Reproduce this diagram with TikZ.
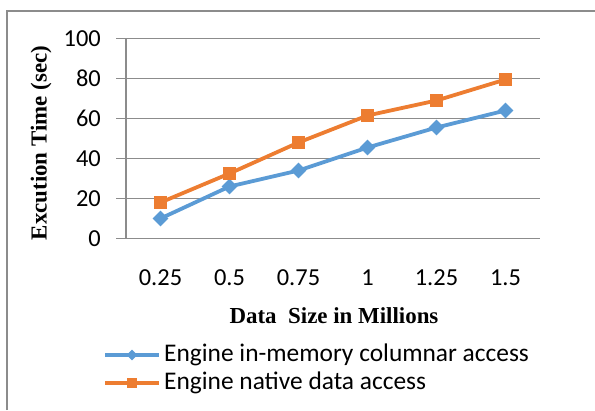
\documentclass[tikz,border=0pt]{standalone}
\usepackage{fontspec}
\setmainfont{Carlito}
\newfontfamily\timesfont{Liberation Serif}
\usetikzlibrary{shapes.geometric}
\definecolor{gridgray}{HTML}{8C8C8C}
\definecolor{serblue}{HTML}{5B9BD5}
\definecolor{serorange}{HTML}{ED7D31}
\tikzset{
  gridline/.style={draw=gridgray, line width=1.5bp},
  framegray/.style={draw=gridgray, line width=1.5bp},
  ticklab/.style={font=\fontsize{24.5}{28}\selectfont, inner sep=0pt},
  axtitle/.style={font=\timesfont\bfseries\fontsize{23}{26}\selectfont, inner sep=0pt},
  blueline/.style={draw=serblue, line width=3.8bp, line join=round},
  orangeline/.style={draw=serorange, line width=3.8bp, line join=round},
  bluemark/.style={diamond, fill=serblue, inner sep=0pt, minimum width=16bp, minimum height=16bp},
  orangemark/.style={rectangle, fill=serorange, inner sep=0pt, minimum size=13.5bp},
  legbluemark/.style={diamond, fill=serblue, inner sep=0pt, minimum width=11bp, minimum height=11bp},
  legorangemark/.style={rectangle, fill=serorange, inner sep=0pt, minimum size=10bp},
  legblue/.style={draw=serblue, line width=3.2bp},
  legorange/.style={draw=serorange, line width=3.2bp},
  legtext/.style={font=\fontsize{25.5}{28}\selectfont, inner sep=0pt, anchor=west},
}
\begin{document}
\begin{tikzpicture}[x=1bp,y=-1bp]
\useasboundingbox (0,0) rectangle (595,410);
% frame
\draw[framegray] (7,410) -- (7,11) -- (595,11);
% gridlines
\foreach \v/\n in {0/g0,20/g20,40/g40,60/g60,80/g80,100/g100}{
  \coordinate (\n l) at (116,{238.5-2*\v});
  \coordinate (\n r) at (540,{238.5-2*\v});
  \draw[gridline] (\n l) -- (\n r);
  \node[ticklab, anchor=east] (\n t) at (101,{238.5-2*\v}) {\v};
}
% y axis
\coordinate (ytop) at (126,38.5);
\coordinate (ybot) at (126,238.5);
\draw[gridline] (ytop) -- (ybot);
% x tick labels
\foreach \i/\l in {1/0.25,2/0.5,3/0.75,4/1,5/1.25,6/1.5}{
  \node[ticklab] (x\i) at ({126+69*(\i-0.5)},278) {\l};
}
% axis titles
\node[axtitle, rotate=90] (ytitle) at (41,143) {Excution Time (sec)};
\node[axtitle] (xtitle) at (334,316) {Data\ \ Size in Millions};
% data
\foreach \i/\v in {1/10,2/26,3/34,4/45.5,5/55.5,6/64}{
  \coordinate (b\i) at ({126+69*(\i-0.5)},{238.5-2*\v});
}
\foreach \i/\v in {1/18,2/32.5,3/48,4/61.5,5/69,6/79.5}{
  \coordinate (o\i) at ({126+69*(\i-0.5)},{238.5-2*\v});
}
\draw[blueline] (b1) -- (b2) -- (b3) -- (b4) -- (b5) -- (b6);
\draw[orangeline] (o1) -- (o2) -- (o3) -- (o4) -- (o5) -- (o6);
\foreach \i in {1,...,6}{
  \node[bluemark] (bm\i) at (b\i) {};
  \node[orangemark] (om\i) at (o\i) {};
}
% legend
\coordinate (lb1) at (105,355);
\coordinate (lb2) at (159,355);
\coordinate (lo1) at (105,383);
\coordinate (lo2) at (159,383);
\draw[legblue] (lb1) -- (lb2);
\draw[legorange] (lo1) -- (lo2);
\node[legbluemark] (lbm) at (132,355) {};
\node[legorangemark] (lom) at (132,383) {};
\node[legtext] (lbt) at (164,355) {Engine in-memory columnar access};
\node[legtext] (lot) at (164,383) {Engine native data access};
\end{tikzpicture}
\end{document}
